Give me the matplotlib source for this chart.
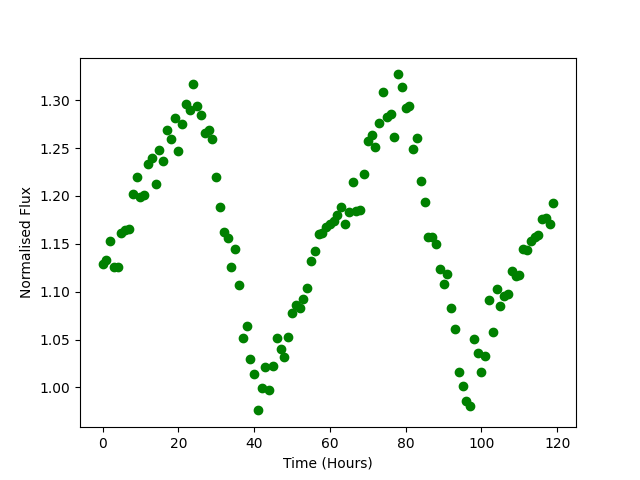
import numpy as np
import matplotlib
matplotlib.use("Agg")
import matplotlib.pyplot as plt

# hourly flux readings, 0..119 h
time = np.arange(120)
flux = [1.129, 1.133, 1.153, 1.126, 1.126, 1.161, 1.164, 1.165, 1.202, 1.220,
        1.199, 1.201, 1.233, 1.240, 1.212, 1.248, 1.237, 1.269, 1.259, 1.281,
        1.247, 1.275, 1.296, 1.290, 1.317, 1.294, 1.285, 1.266, 1.269, 1.260,
        1.220, 1.188, 1.162, 1.156, 1.126, 1.145, 1.107, 1.052, 1.064, 1.030,
        1.014, 0.976, 0.999, 1.021, 0.997, 1.022, 1.052, 1.040, 1.032, 1.053,
        1.078, 1.086, 1.083, 1.092, 1.104, 1.132, 1.143, 1.160, 1.161, 1.168,
        1.171, 1.174, 1.180, 1.189, 1.171, 1.183, 1.215, 1.184, 1.185, 1.223,
        1.257, 1.264, 1.251, 1.276, 1.309, 1.283, 1.286, 1.262, 1.327, 1.314,
        1.292, 1.294, 1.249, 1.261, 1.216, 1.194, 1.157, 1.157, 1.150, 1.124,
        1.108, 1.118, 1.083, 1.061, 1.016, 1.002, 0.986, 0.981, 1.051, 1.036,
        1.016, 1.033, 1.091, 1.058, 1.103, 1.085, 1.096, 1.098, 1.122, 1.116,
        1.117, 1.145, 1.144, 1.153, 1.157, 1.159, 1.176, 1.177, 1.171, 1.193]

plt.figure(figsize=(6.4, 4.8), dpi=100)
plt.plot(time, flux, 'o', color='green')
plt.xlabel('Time (Hours)')
plt.ylabel('Normalised Flux')
plt.savefig('out.png')
